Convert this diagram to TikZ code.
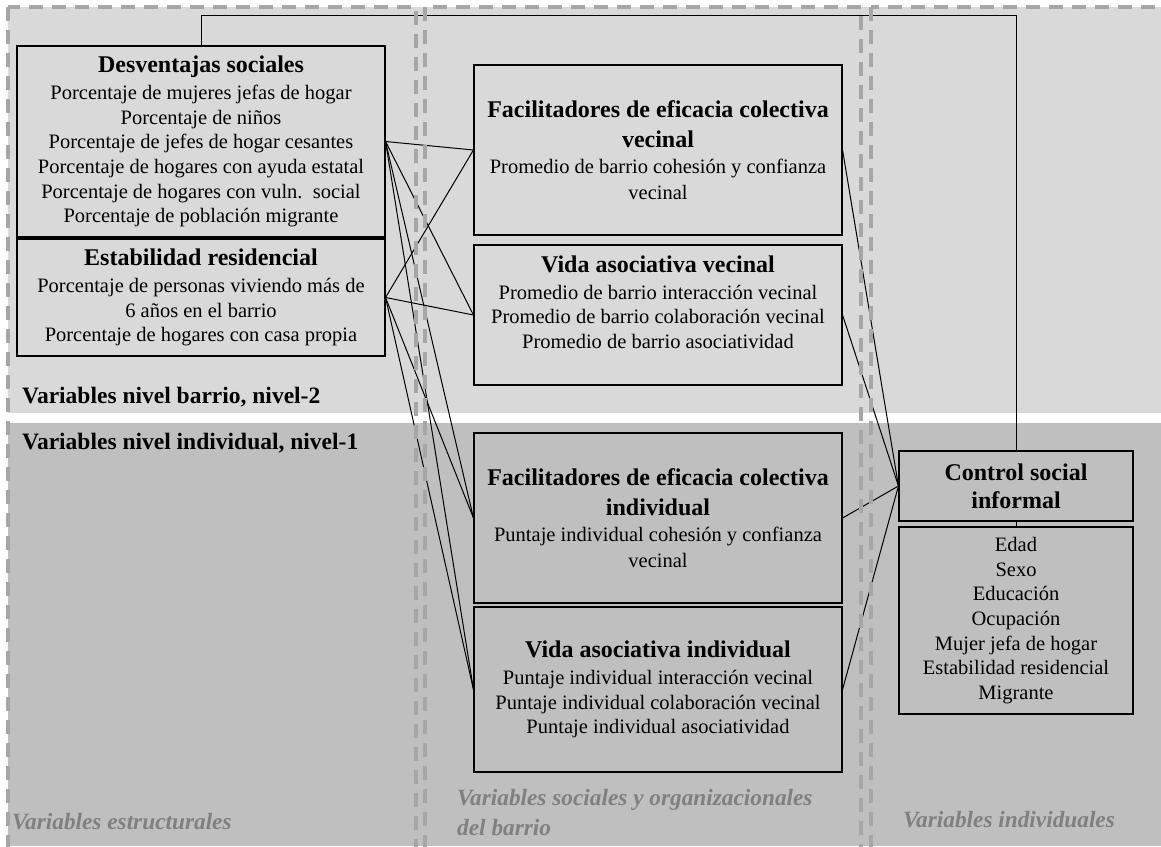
\documentclass[tikz,border=0pt]{standalone}
\usepackage{fontspec}
\setmainfont{Liberation Serif}
\definecolor{bandlight}{HTML}{D9D9D9}
\definecolor{banddark}{HTML}{BFBFBF}
\definecolor{dashgray}{HTML}{A6A6A6}
\definecolor{labelgray}{HTML}{808080}
\newcommand\bodyfs{\fontsize{20.5}{24.6}\selectfont}
\newcommand\titlefs{\fontsize{24}{29}\selectfont\bfseries}
\newcommand\levelfs{\fontsize{23.5}{28}\selectfont\bfseries}
\newcommand\colfs{\fontsize{23.3}{30}\selectfont\bfseries\itshape}
\begin{document}
\begin{tikzpicture}[x=1pt,y=-1pt,
  varbox/.style={draw=black,line width=1.1pt,align=center,inner sep=0pt,
                 font=\bodyfs,text=black},
  upperbox/.style={varbox,fill=bandlight},
  lowerbox/.style={varbox,fill=banddark},
  plain/.style={inner sep=0pt,align=center,font=\bodyfs},
  link/.style={draw=black,line width=1pt},
  column/.style={draw=dashgray,line width=3.4pt,dash pattern=on 14pt off 9pt},
  levellabel/.style={inner sep=0pt,anchor=west,font=\levelfs},
  collabel/.style={inner sep=0pt,anchor=west,align=left,font=\colfs,text=labelgray}]
\useasboundingbox (0,0) rectangle (1161,846);

% level bands
\fill[bandlight] (8,7) rectangle (1161,413);
\fill[banddark] (8,423) rectangle (1161,846);

% neighbourhood structural variables
\node[upperbox,minimum width=368pt,minimum height=191pt] (des) at (201,141.5)
  {{\titlefs Desventajas sociales}\\[2.4pt]
   Porcentaje de mujeres\ jefas de hogar\\
   Porcentaje de niños\\
   Porcentaje de jefes de hogar\ cesantes\\
   Porcentaje de hogares con ayuda estatal\\
   Porcentaje de hogares con vuln.\ \ social\\
   Porcentaje de población\ migrante};
\node[upperbox,minimum width=368pt,minimum height=117pt] (est) at (201,297.5)
  {{\titlefs Estabilidad residencial}\\[2.4pt]
   Porcentaje de personas viviendo más de\\
   6 años en el barrio\\
   Porcentaje de hogares con casa propia};

% neighbourhood social and organisational variables
\node[upperbox,minimum width=368pt,minimum height=170pt] (fv) at (658,150)
  {{\titlefs Facilitadores de eficacia colectiva}\\[5.4pt]
   {\titlefs vecinal}\\[1.4pt]
   Promedio de barrio\ cohesión y confianza\\[1.4pt]
   vecinal};
\node[upperbox,minimum width=368pt,minimum height=140pt] (vv) at (658,315) {};
\node[plain] (vvtext) at (658,302)
  {{\titlefs Vida asociativa vecinal}\\[2.4pt]
   Promedio de barrio\ interacción\ vecinal\\
   Promedio\ de barrio\ colaboración\ vecinal\\
   Promedio de barrio\ asociatividad};
\node[lowerbox,minimum width=368pt,minimum height=170pt] (fi) at (658,518)
  {{\titlefs Facilitadores de eficacia colectiva}\\[5.4pt]
   {\titlefs individual}\\[1.4pt]
   Puntaje individual cohesión y confianza\\[1.4pt]
   vecinal};
\node[lowerbox,minimum width=368pt,minimum height=165pt] (vi) at (658,689.5)
  {{\titlefs Vida asociativa individual}\\[2.4pt]
   Puntaje individual interacción\ vecinal\\
   Puntaje individual colaboración\ vecinal\\
   Puntaje individual asociatividad};

% individual variables
\node[lowerbox,minimum width=234pt,minimum height=70pt] (ctrl) at (1016,486)
  {{\titlefs Control social}\\[3.4pt]{\titlefs informal}};
\node[lowerbox,minimum width=234pt,minimum height=187pt] (edad) at (1016,620.5)
  {Edad\\ Sexo\\ Educación\\ Ocupación\\ Mujer jefa de hogar\\
   Estabilidad residencial\\ Migrante};

% level labels
\node[levellabel] (lvl2) at (22,397) {Variables nivel barrio, nivel-2};
\node[levellabel] (lvl1) at (22,443) {Variables nivel individual, nivel-1};

% paths
\foreach \s in {des,est}
  \foreach \t in {fv,vv,fi,vi}
    \draw[link] (\s.east) -- (\t.west);
\foreach \t in {fv,vv,fi,vi}
  \draw[link] (\t.east) -- (ctrl.west);
\coordinate (fbtop) at (0,15);
\draw[link] (des.north) -- (des.north |- fbtop) -| (ctrl.north);
\draw[link] (ctrl.south) -- (edad.north);

% column frames
\draw[column] (8,7) rectangle (416,870);
\draw[column] (425,7) rectangle (861,870);
\draw[column] (871,7) rectangle (1185,870);

% column labels
\node[collabel] (colstr) at (12,822) {Variables estructurales};
\node[collabel] (colsoc) at (457,813) {Variables sociales y organizacionales\\del barrio};
\node[collabel] (colind) at (903,820) {Variables individuales};
\end{tikzpicture}
\end{document}
